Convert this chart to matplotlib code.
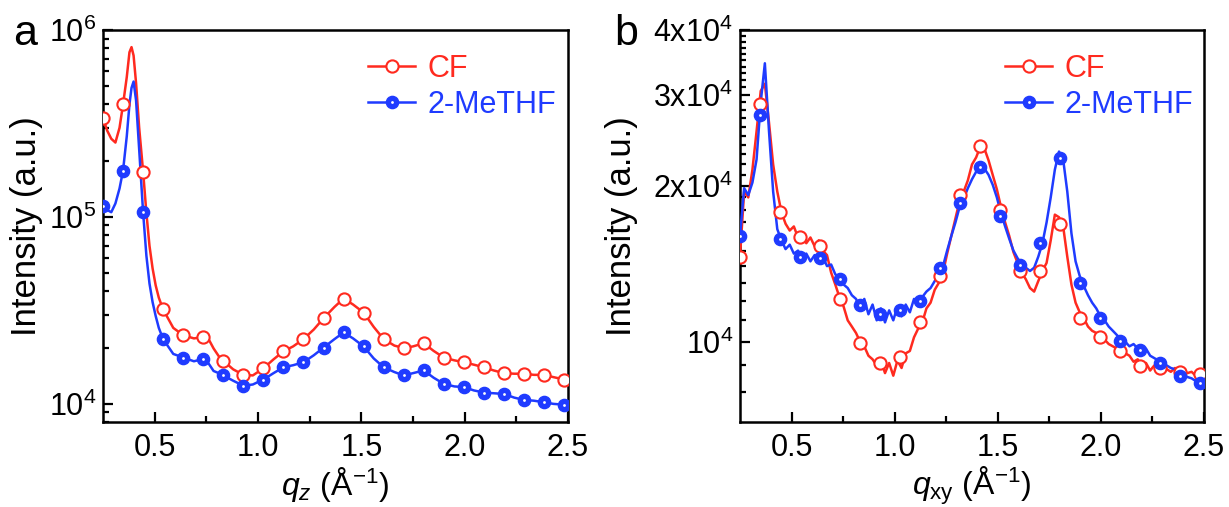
import numpy as np
import matplotlib
matplotlib.use("Agg")
import matplotlib.pyplot as plt
from matplotlib.ticker import FixedLocator, FixedFormatter, NullFormatter, LogLocator
from matplotlib.lines import Line2D

plt.rcParams['font.family'] = ['Liberation Sans', 'DejaVu Sans']
plt.rcParams['mathtext.fontset'] = 'custom'
plt.rcParams['mathtext.rm'] = 'Liberation Sans'
plt.rcParams['mathtext.it'] = 'Liberation Sans:italic'
plt.rcParams['mathtext.bf'] = 'Liberation Sans:bold'

RED = '#FF2A1F'
BLUE = '#1F3BFF'

# ---------------- panel a data ----------------
qa = [0.25, 0.27, 0.29, 0.31, 0.33, 0.347, 0.365, 0.378, 0.388, 0.398, 0.41, 0.425,
      0.444, 0.46, 0.475, 0.49, 0.505, 0.52, 0.541, 0.59, 0.638, 0.69, 0.735, 0.76,
      0.785, 0.81, 0.832, 0.88, 0.929, 0.975, 1.026, 1.075, 1.123, 1.17, 1.22, 1.27,
      1.317, 1.37, 1.414, 1.46, 1.511, 1.56, 1.608, 1.66, 1.705, 1.75, 1.802, 1.85,
      1.899, 1.95, 1.996, 2.045, 2.093, 2.14, 2.19, 2.24, 2.287, 2.335, 2.384, 2.43,
      2.481, 2.5]
cf_a = [340000, 290000, 262000, 250000, 300000, 400000, 560000, 760000, 810000, 730000,
        520000, 300000, 175000, 105000, 70000, 53000, 43000, 37000, 32000, 25500, 23300,
        22400, 22800, 22300, 19800, 18000, 17000, 15300, 14300, 14200, 15500, 17300,
        19100, 20300, 22200, 25000, 28700, 33000, 36600, 34000, 30800, 25800, 22200,
        20500, 19900, 20300, 21100, 19200, 17700, 17100, 16700, 16200, 15700, 15100,
        14600, 14500, 14500, 14300, 14300, 13900, 13500, 13300]
me_a = [115000, 109000, 106000, 118000, 142000, 177000, 270000, 400000, 490000, 530000,
        420000, 230000, 106000, 62000, 44000, 35000, 29500, 25500, 22200, 18500, 17700,
        16900, 17400, 16500, 15000, 14600, 14200, 13300, 12500, 12700, 13500, 14600,
        15700, 16100, 16700, 18200, 20000, 22200, 24100, 22400, 20300, 17500, 15700,
        14800, 14200, 14600, 15100, 13800, 12800, 12400, 12300, 11800, 11500, 11400,
        11300, 10800, 10500, 10400, 10200, 10000, 9900, 9800]
marker_q = [0.25, 0.347, 0.444, 0.541, 0.638, 0.735, 0.832, 0.929, 1.026, 1.123, 1.22,
            1.317, 1.414, 1.511, 1.608, 1.705, 1.802, 1.899, 1.996, 2.093, 2.19, 2.287,
            2.384, 2.481]

# ---------------- panel b data ----------------
qb = np.linspace(0.25, 2.50, 113)
cf_b = [14600, 19500, 19000, 21500, 25500, 30500, 31500, 26500, 22000, 19500,
        17800, 16900, 16400, 16700, 15900, 16200, 15500, 15900, 15300, 15700,
        15000, 14700, 13600, 12900, 12200, 11700, 11000, 10700, 10400, 10000,
        9800, 9400, 9250, 9000, 9200, 8700, 9100, 8600, 9200, 8900,
        9500, 9600, 10200, 10600, 10900, 11600, 11900, 12600, 13000, 13600,
        14800, 16000, 17300, 18700, 19500, 20500, 22000, 22700, 23800, 23600,
        22400, 21000, 19700, 18200, 17000, 16000, 14900, 14200, 13600, 13200,
        12700, 12500, 13100, 13700, 14200, 15700, 17600, 17400, 16700, 14600,
        12900, 11900, 11400, 11100, 10700, 10500, 10400, 10200, 10100, 9900,
        9800, 9700, 9550, 9500, 9400, 9150, 9250, 8950, 9100, 8800,
        9000, 8700, 8950, 8850, 8750, 8900, 8650, 8800, 8700, 8750,
        8600, 8700, 8650]
me_b = [16000, 19800, 19200, 20300, 22500, 29000, 34500, 25500, 19500, 16500,
        15700, 15100, 15400, 14800, 15000, 14500, 14800, 14300, 14700, 14400,
        14600, 14000, 14100, 13500, 13300, 12900, 12700, 12300, 12100, 11600,
        12100, 11300, 11800, 11000, 11600, 10900, 11500, 11000, 11700, 11200,
        11800, 11400, 12100, 11700, 12200, 12500, 12700, 13100, 13500, 14000,
        15000, 16000, 17000, 18200, 18900, 19800, 20600, 21300, 21800, 21600,
        21000, 20100, 19000, 17700, 16700, 15800, 15000, 14500, 14100, 13900,
        13700, 13900, 14600, 15500, 17000, 19000, 21500, 23300, 22500, 19500,
        16200, 14300, 13400, 12800, 12300, 11900, 11600, 11200, 11000, 10700,
        10500, 10300, 10100, 10000, 9800, 9900, 9700, 9600, 9700, 9400,
        9300, 9200, 9100, 9000, 8900, 8850, 8700, 8650, 8550, 8500,
        8400, 8300, 8200]
cf_b_mark = [14600, 28800, 17800, 15900, 15300, 12100, 9930, 9100, 9360, 10900, 13400,
             19200, 23900, 18000, 13700, 13700, 16900, 11100, 10200, 9580, 8980, 8900,
             8750, 8650]
me_b_mark = [16000, 27400, 15800, 14600, 14500, 13200, 11800, 11300, 11500, 12000, 13900,
             18500, 21800, 17500, 14100, 15500, 22600, 12970, 11100, 10040, 9640, 9090,
             8570, 8320]

labels = ['CF', '2-MeTHF']
yticks_b = [1e4, 2e4, 3e4, 4e4]
yticklabels_b = ['10$^{4}$', '2x10$^{4}$', '3x10$^{4}$', '4x10$^{4}$']

W, H = 1229, 507
fig = plt.figure(figsize=(W / 100, H / 100), dpi=100)

def px_axes(l, r, t, b):
    return fig.add_axes([l / W, 1 - b / H, (r - l) / W, (b - t) / H])

axa = px_axes(103, 568, 30, 422)
axb = px_axes(740, 1204, 30, 422)

LW = 1.8
MS = 8.8
DOT = 2.0

def style(ax):
    for s in ax.spines.values():
        s.set_linewidth(1.8)
    ax.tick_params(which='both', direction='in', top=False, right=False,
                   width=1.6, labelsize=22)
    ax.tick_params(which='major', length=7)
    ax.tick_params(which='minor', length=4)
    ax.tick_params(axis='x', pad=8)
    ax.tick_params(axis='y', pad=5)
    ax.set_xlim(0.25, 2.5)
    ax.xaxis.set_major_locator(FixedLocator([0.5, 1.0, 1.5, 2.0, 2.5]))
    ax.xaxis.set_major_formatter(FixedFormatter(['0.5', '1.0', '1.5', '2.0', '2.5']))
    ax.xaxis.set_minor_locator(FixedLocator([0.75, 1.25, 1.75, 2.25]))

def draw(ax, q, y, qm, ym, color, filled):
    ax.plot(q, y, '-', color=color, lw=LW, zorder=3)
    if filled:
        ax.plot(qm, ym, 'o', ms=MS, mfc=color, mec=color, mew=1.0, zorder=4)
        ax.plot(qm, ym, 'o', ms=DOT, mfc='white', mec='white', mew=0, zorder=5)
    else:
        ax.plot(qm, ym, 'o', ms=MS, mfc='white', mec=color, mew=1.5, zorder=4)

# panel a
qa_arr = np.array(qa)
idx = np.isin(np.round(qa_arr, 3), np.round(marker_q, 3))
draw(axa, qa, cf_a, qa_arr[idx], np.array(cf_a)[idx], RED, False)
draw(axa, qa, me_a, qa_arr[idx], np.array(me_a)[idx], BLUE, True)
axa.set_yscale('log')
axa.set_ylim(8000, 1e6)
style(axa)
axa.yaxis.set_major_locator(LogLocator(base=10, numticks=10))
axa.yaxis.set_minor_locator(LogLocator(base=10, subs=np.arange(2, 10), numticks=20))
axa.yaxis.set_minor_formatter(NullFormatter())

# panel b
draw(axb, qb, cf_b, marker_q, cf_b_mark, RED, False)
draw(axb, qb, me_b, marker_q, me_b_mark, BLUE, True)
axb.set_yscale('log')
axb.set_ylim(7000, 40000)
style(axb)
axb.yaxis.set_major_locator(FixedLocator(yticks_b))
axb.yaxis.set_major_formatter(FixedFormatter(yticklabels_b))
minor_b = [v for v in range(8000, 40000, 1000) if v not in (10000, 20000, 30000)]
axb.yaxis.set_minor_locator(FixedLocator(minor_b))
axb.yaxis.set_minor_formatter(NullFormatter())

# legends
def legend(ax, x, y):
    h_cf = Line2D([], [], color=RED, lw=LW, marker='o', ms=MS, mfc='white', mec=RED, mew=1.5)
    h_me = Line2D([], [], color=BLUE, lw=LW, marker='o', ms=MS, mfc=BLUE, mec=BLUE)
    h_dot = Line2D([], [], ls='none', marker='o', ms=DOT, mfc='white', mec='white', mew=0)
    leg = ax.legend([h_cf, (h_me, h_dot)], labels, loc='upper left', bbox_to_anchor=(x, y),
                    frameon=False, fontsize=22, handlelength=1.55, handletextpad=0.4,
                    labelspacing=0.2, borderpad=0, borderaxespad=0)
    for t, c in zip(leg.get_texts(), [RED, BLUE]):
        t.set_color(c)

legend(axa, 0.57, 0.94)
legend(axb, 0.571, 0.94)

# labels
def ftext(x, y, s, **kw):
    fig.text(x / W, 1 - y / H, s, **kw)

ftext(13, 45, 'a', fontsize=31, ha='left', va='baseline')
ftext(614, 45, 'b', fontsize=31, ha='left', va='baseline')
ftext(27, 226, 'Intensity (a.u.)', fontsize=25, rotation=90, ha='center', va='center')
ftext(621, 226, 'Intensity (a.u.)', fontsize=25, rotation=90, ha='center', va='center')
ftext(335, 495, r'$q_{z}$ (Å$^{-1}$)', fontsize=23, ha='center', va='baseline')
ftext(972, 495, r'$q_{\mathrm{xy}}$ (Å$^{-1}$)', fontsize=23, ha='center', va='baseline')

fig.savefig('out.png', dpi=100)
